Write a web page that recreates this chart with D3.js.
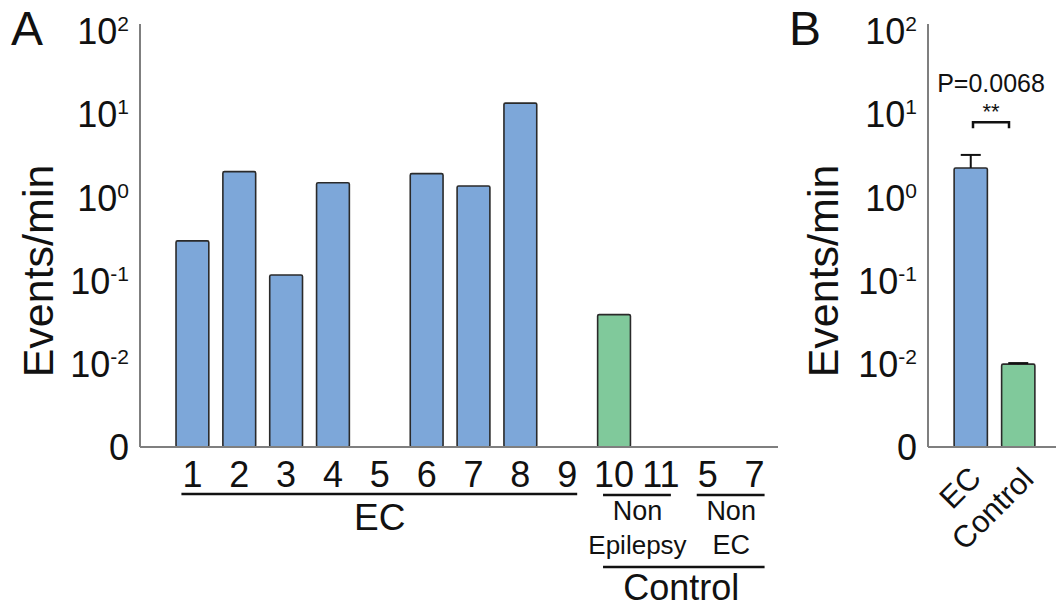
<!DOCTYPE html>
<html>
<head>
<meta charset="UTF-8">
<title>Events/min</title>
<style>
  body { margin: 0; background: #fff; }
  svg { font-family: 'Liberation Sans', Arial, sans-serif; }
  text { fill: #111; }
</style>
</head>
<body>
<svg width="1056" height="609"></svg>
<script src="https://d3js.org/d3.v7.min.js"></script>
<script>
// panel A, one bar per patient (null = no events)
const patients = ["1", "2", "3", "4", "5", "6", "7", "8", "9", "10", "11", "5", "7"];
const eventsA = [0.30, 2.04, 0.117, 1.50, null, 1.93, 1.37, 13.6, null, 0.039, null, null, null];
const isControl = [false, false, false, false, false, false, false, false, false, true, true, true, true];

// panel B, group means with upper error
const groupsB = ["EC", "Control"];
const meanB = [2.26, 0.0099];
const upperB = [3.24, 0.0102];

// log axis, the lowest decade is shown as "0"
const tickValues = [1e-3, 1e-2, 1e-1, 1, 10, 100];
const tickExp = [null, "-2", "-1", "0", "1", "2"];

const blue = "#7da7d9", green = "#80c99b";

const svg = d3.select("svg");
const y = d3.scaleLog().domain([1e-3, 1e2]).range([447, 31]);

function drawYAxis(x0) {
  const g = svg.append("g").attr("transform", `translate(${x0},0)`);
  g.call(d3.axisLeft(y).tickValues(tickValues).tickSize(0).tickPadding(11).tickFormat(() => ""));
  g.select(".domain").remove();
  g.selectAll(".tick text").each(function(d, i) {
    const t = d3.select(this).attr("font-size", 36).attr("dy", "0.35em")
      .attr("font-family", "'Liberation Sans', Arial, sans-serif").attr("fill", "#111");
    if (tickExp[i] === null) { t.text("0"); return; }
    t.append("tspan").text("10");
    t.append("tspan").attr("font-size", 21).attr("dy", -13).text(tickExp[i]);
  });
  g.append("line").attr("x1", 0).attr("x2", 0).attr("y1", 24).attr("y2", y(1e-3))
    .attr("stroke", "#7f7f7f").attr("stroke-width", 2);
}

function yLabel(x, yc) {
  svg.append("text").attr("transform", `translate(${x},${yc}) rotate(-90)`)
    .attr("text-anchor", "middle").attr("font-size", 43).text("Events/min");
}

// ---------- panel A ----------
const xA = d3.scaleBand().domain(d3.range(patients.length)).range([169, 778])
  .paddingInner(0.3).paddingOuter(0.15);
const cA = i => xA(i) + xA.bandwidth() / 2;

svg.append("text").attr("x", 11).attr("y", 45).attr("font-size", 48).text("A");
yLabel(53, 271);
drawYAxis(140);

svg.append("g").selectAll("rect")
  .data(eventsA.map((v, i) => ({ v, i })).filter(d => d.v !== null))
  .join("rect")
  .attr("x", d => xA(d.i)).attr("width", xA.bandwidth())
  .attr("y", d => y(d.v)).attr("height", d => y(1e-3) - y(d.v))
  .attr("rx", 1.5)
  .attr("fill", d => isControl[d.i] ? green : blue)
  .attr("stroke", "#2a2a2a").attr("stroke-width", 1.6);

svg.append("line").attr("x1", 140).attr("x2", 778).attr("y1", y(1e-3)).attr("y2", y(1e-3))
  .attr("stroke", "#7f7f7f").attr("stroke-width", 2);

const axA = svg.append("g").attr("transform", `translate(0,${y(1e-3)})`)
  .call(d3.axisBottom(xA).tickSize(0).tickPadding(14).tickFormat(i => patients[i]));
axA.select(".domain").remove();
axA.selectAll(".tick text").attr("font-size", 36)
  .attr("font-family", "'Liberation Sans', Arial, sans-serif").attr("fill", "#111");

function underline(i0, i1, yy) {
  svg.append("line").attr("x1", cA(i0) - 11).attr("x2", cA(i1) + 10)
    .attr("y1", yy).attr("y2", yy).attr("stroke", "#111").attr("stroke-width", 2.5);
}
function label(txt, i0, i1, yy, fs, dx = 0) {
  svg.append("text").attr("x", (cA(i0) + cA(i1)) / 2 + dx).attr("y", yy)
    .attr("text-anchor", "middle").attr("font-size", fs).text(txt);
}
underline(0, 8, 494);
label("EC", 0, 8, 530, 37);
underline(9, 10, 495);
label("Non", 9, 10, 520, 27);
label("Epilepsy", 9, 10, 554, 26);
underline(11, 12, 495);
label("Non", 11, 12, 520, 27);
label("EC", 11, 12, 554, 27);
underline(9, 12, 567);
label("Control", 9, 12, 600, 36, -3);

// ---------- panel B ----------
const xB = d3.scaleBand().domain(groupsB).range([947, 1042]).paddingInner(0.3).paddingOuter(0.15);
const cB = k => xB(k) + xB.bandwidth() / 2;

svg.append("text").attr("x", 789).attr("y", 45).attr("font-size", 48).text("B");
yLabel(838, 271);
drawYAxis(928);

svg.append("g").selectAll("rect")
  .data(groupsB)
  .join("rect")
  .attr("x", d => xB(d)).attr("width", xB.bandwidth())
  .attr("y", (d, i) => y(meanB[i])).attr("height", (d, i) => y(1e-3) - y(meanB[i]))
  .attr("rx", 1.5)
  .attr("fill", (d, i) => i === 0 ? blue : green)
  .attr("stroke", "#2a2a2a").attr("stroke-width", 1.6);

const err = svg.append("g").attr("stroke", "#111").attr("stroke-width", 2);
groupsB.forEach((k, i) => {
  err.append("line").attr("x1", cB(k)).attr("x2", cB(k)).attr("y1", y(meanB[i])).attr("y2", y(upperB[i]));
  err.append("line").attr("x1", cB(k) - 10).attr("x2", cB(k) + 10).attr("y1", y(upperB[i])).attr("y2", y(upperB[i]));
});

svg.append("line").attr("x1", 928).attr("x2", 1056).attr("y1", y(1e-3)).attr("y2", y(1e-3))
  .attr("stroke", "#7f7f7f").attr("stroke-width", 2);

const axB = svg.append("g").attr("transform", `translate(0,${y(1e-3)})`)
  .call(d3.axisBottom(xB).tickSize(0).tickFormat(d => d));
axB.select(".domain").remove();
axB.selectAll(".tick text")
  .attr("font-size", 31).attr("font-family", "'Liberation Sans', Arial, sans-serif").attr("fill", "#111")
  .attr("text-anchor", "end").attr("dy", null)
  .attr("transform", (d, i) => i === 0 ? "translate(12,33) rotate(-45)" : "translate(17,34) rotate(-45)")
  .attr("y", 0);

// significance bracket
const mid = (cB("EC") + cB("Control")) / 2 - 3.5;
const yBr = y(8);
svg.append("path")
  .attr("d", `M${mid - 18},${yBr + 6}V${yBr}H${mid + 18}V${yBr + 6}`)
  .attr("fill", "none").attr("stroke", "#111").attr("stroke-width", 2.5);
svg.append("text").attr("x", mid).attr("y", yBr - 3).attr("text-anchor", "middle")
  .attr("font-size", 22).text("**");
svg.append("text").attr("x", mid).attr("y", 92).attr("text-anchor", "middle")
  .attr("font-size", 25).text("P=0.0068");
</script>
</body>
</html>
